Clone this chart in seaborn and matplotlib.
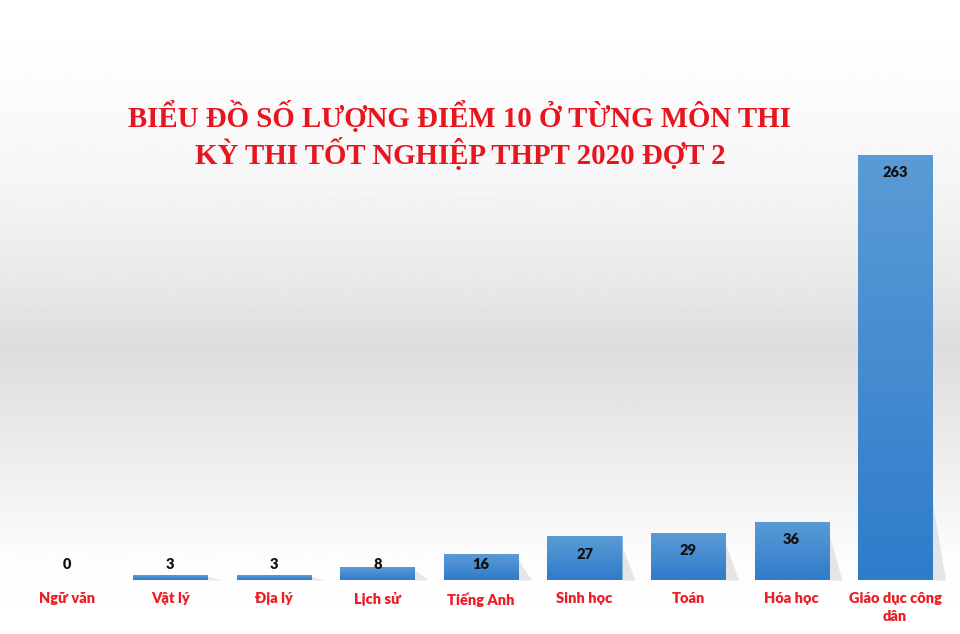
import numpy as np
import pandas as pd
import seaborn as sns
import matplotlib.pyplot as plt
from matplotlib.colors import LinearSegmentedColormap

# data
subjects = ['Ngữ văn', 'Vật lý', 'Địa lý', 'Lịch sử', 'Tiếng Anh',
            'Sinh học', 'Toán', 'Hóa học', 'Giáo dục công\ndân']
counts = [0, 3, 3, 8, 16, 27, 29, 36, 263]
title_lines = ['BIỂU ĐỒ SỐ LƯỢNG ĐIỂM 10 Ở TỪNG MÔN THI',
               'KỲ THI TỐT NGHIỆP THPT 2020 ĐỢT 2']

df = pd.DataFrame({'mon': subjects, 'so_luong': counts})

sns.set_style('white')
plt.rcParams['font.family'] = ['Lato', 'DejaVu Sans']

fig = plt.figure(figsize=(9.6, 6.34), dpi=100)

# background: white top, grey band, white bottom
bg = fig.add_axes([0, 0, 1, 1], zorder=0)
yy = np.linspace(0, 1, 400)
shade = np.interp(yy, [0, 0.08, 0.30, 0.45, 0.55, 0.75, 0.88, 1.0],
                  [1.0, 0.995, 0.96, 0.91, 0.865, 0.94, 0.99, 1.0])
bg.imshow(shade[:, None], aspect='auto', cmap='gray', vmin=0, vmax=1,
          extent=[0, 1, 0, 1], origin='upper')
bg.axis('off')

ax = fig.add_axes([0.0156, 0.0852, 0.9708, 0.9148], zorder=1)
ax.patch.set_alpha(0)
sns.barplot(data=df, x='mon', y='so_luong', color='#4a8bd0', width=0.715,
            saturation=1, ax=ax)
ax.set_xlim(-0.5, len(subjects) - 0.5)
ax.set_ylim(0, 359)

# blue vertical gradient on each bar
blue = LinearSegmentedColormap.from_list('b', ['#5b9bd5', '#2f7ccb'])
grad = np.linspace(0, 1, 100)[:, None]
for p in ax.patches:
    x0, w, h = p.get_x(), p.get_width(), p.get_height()
    if h <= 0:
        continue
    # soft shadow on the right side
    ax.fill_between([x0 + w, x0 + w + 0.13], [0, 0], [min(h, 60) * 0.8, 0],
                    color='#b0b0b0', alpha=0.3, lw=0, zorder=1)
    p.set_edgecolor('#7fb0e0')
    p.set_linewidth(0.6)
    im = ax.imshow(grad, cmap=blue, aspect='auto', origin='upper',
                   extent=[x0, x0 + w, 0, h], zorder=2)
    im.set_clip_path(p)

for i, v in enumerate(counts):
    ax.text(i, max(v - 11, 9.3), str(v), ha='center', va='center',
            fontsize=10.5, fontweight='heavy', color='#111111', zorder=3)

ax.set_xlabel('')
ax.set_ylabel('')
ax.set_yticks([])
ax.tick_params(axis='x', length=0, pad=9)
for lab in ax.get_xticklabels():
    lab.set_color('#ee1c25')
    lab.set_fontweight('heavy')
    lab.set_fontsize(10.5)
    lab.set_verticalalignment('top')
    lab.set_linespacing(1.45)
sns.despine(ax=ax, left=True, bottom=True)

for k, line in enumerate(title_lines):
    fig.text(0.479, 1 - (117 + 36 * k) / 634, line, ha='center', va='center',
             fontsize=20.8, fontweight='bold', color='#e8141e',
             family=['Liberation Serif', 'DejaVu Serif'])

fig.savefig('out.png', dpi=100)
